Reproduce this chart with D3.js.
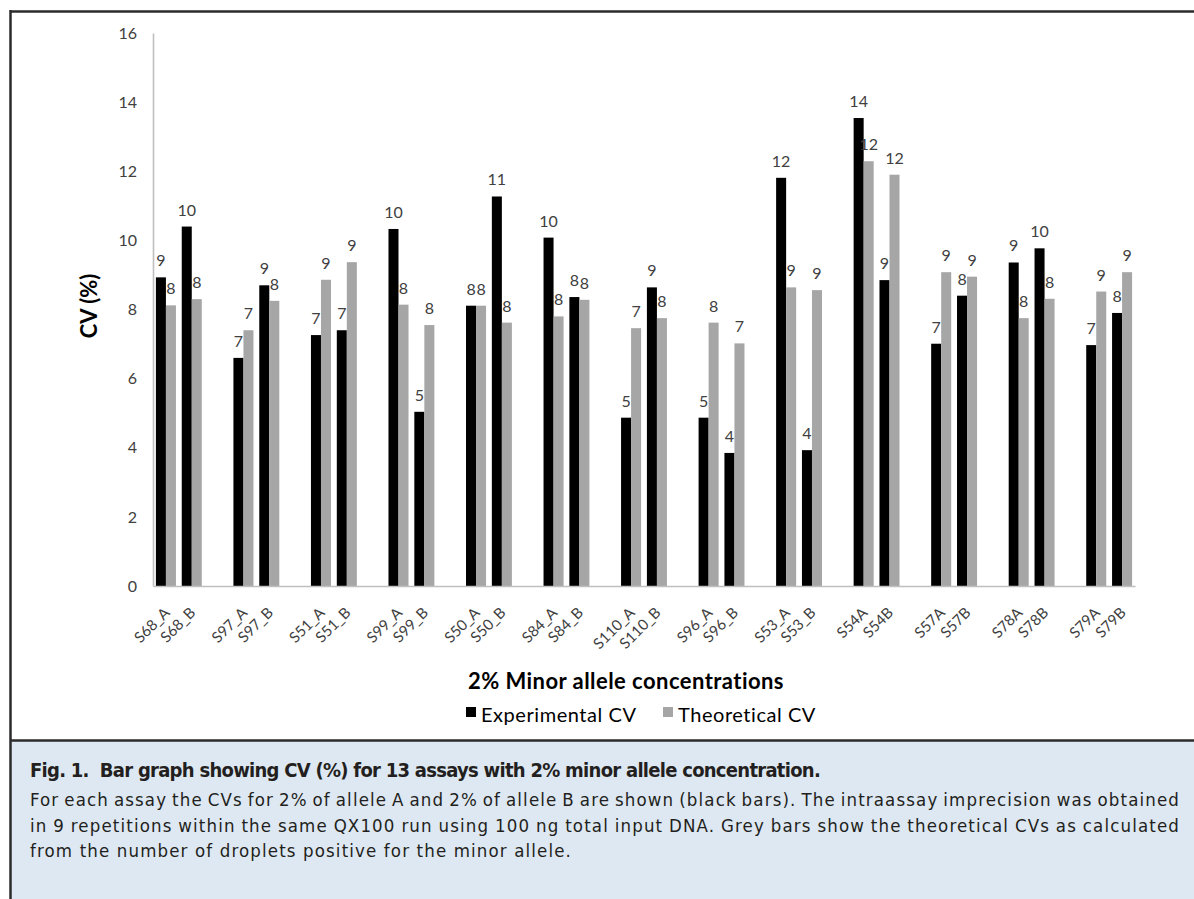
<!DOCTYPE html>
<html lang="en">
<head>
<meta charset="UTF-8">
<title>CV (%) for 13 assays with 2% minor allele concentration</title>
<script src="https://d3js.org/d3.v7.min.js"></script>
<style>
  body { margin: 0; background: #fff; }
  svg { display: block; }
  .chart-text { font-family: Lato, "Open Sans", sans-serif; fill: #404040; }
  .caption { font-family: "DejaVu Sans Condensed", "Liberation Sans Narrow", "Roboto", sans-serif; fill: #231f20; }
</style>
</head>
<body>
<div id="chart"></div>
<script>
// assays, in pairs (allele A / allele B)
const assays = ["S68_A", "S68_B", "S97_A", "S97_B", "S51_A", "S51_B", "S99_A", "S99_B",
  "S50_A", "S50_B", "S84_A", "S84_B", "S110_A", "S110_B", "S96_A", "S96_B",
  "S53_A", "S53_B", "S54A", "S54B", "S57A", "S57B", "S78A", "S78B", "S79A", "S79B"];
const experimentalCV = [8.93, 10.40, 6.60, 8.70, 7.26, 7.40, 10.33, 5.04,
  8.11, 11.27, 10.08, 8.36, 4.87, 8.64, 4.87, 3.85,
  11.81, 3.93, 13.54, 8.85, 7.01, 8.40, 9.36, 9.77, 6.97, 7.90];
const theoreticalCV = [8.12, 8.30, 7.40, 8.25, 8.86, 9.37, 8.14, 7.55,
  8.11, 7.62, 7.80, 8.28, 7.46, 7.75, 7.62, 7.02,
  8.64, 8.56, 12.29, 11.90, 9.08, 8.95, 7.75, 8.31, 8.52, 9.08];
const seriesNames = ["Experimental CV", "Theoretical CV"];
const seriesColors = ["#000000", "#a6a6a6"];
const yTicks = [0, 2, 4, 6, 8, 10, 12, 14, 16];

const W = 1194, H = 899;
const svg = d3.select("#chart").append("svg")
  .attr("width", W).attr("height", H);

// category slots: every pair followed by an empty slot (except the last)
const slots = [];
assays.forEach((a, i) => {
  slots.push(a);
  if (i % 2 === 1 && i < assays.length - 1) slots.push("gap" + i);
});

const rows = [];
assays.forEach((a, i) => {
  rows.push({ assay: a, series: seriesNames[0], value: experimentalCV[i] });
  rows.push({ assay: a, series: seriesNames[1], value: theoreticalCV[i] });
});

const x0 = d3.scaleBand().domain(slots).range([153, 1135]).padding(0);
const x1 = d3.scaleBand().domain(seriesNames).range([0, x0.bandwidth()])
  .paddingInner(0).paddingOuter(0.29);
const y = d3.scaleLinear().domain([0, 16]).range([586, 33]);
const color = d3.scaleOrdinal().domain(seriesNames).range(seriesColors);

// y axis
const yAxis = svg.append("g")
  .attr("transform", "translate(153,0)")
  .call(d3.axisLeft(y).tickValues(yTicks).tickSize(0).tickSizeOuter(0).tickPadding(16));
yAxis.select(".domain").attr("stroke", "#bfbfbf").attr("stroke-width", 1.6);
yAxis.selectAll("text").attr("class", "chart-text").style("font-size", "16px").attr("fill", null);

// bars
svg.append("g").selectAll("rect")
  .data(rows)
  .join("rect")
  .attr("x", d => x0(d.assay) + x1(d.series))
  .attr("y", d => y(d.value))
  .attr("width", x1.bandwidth())
  .attr("height", d => y(0) - y(d.value))
  .attr("fill", d => color(d.series));

// value labels
svg.append("g").selectAll("text")
  .data(rows)
  .join("text")
  .attr("class", "chart-text")
  .attr("x", d => x0(d.assay) + x1(d.series) + x1.bandwidth() / 2)
  .attr("y", d => y(d.value) - 11)
  .attr("text-anchor", "middle")
  .style("font-size", "16px")
  .text(d => Math.round(d.value));

// x axis
const xAxis = svg.append("g")
  .attr("transform", `translate(0,${y(0)})`)
  .call(d3.axisBottom(x0).tickSize(0).tickSizeOuter(0)
    .tickFormat(d => d.startsWith("gap") ? "" : d));
xAxis.select(".domain").attr("stroke", "#bfbfbf").attr("stroke-width", 1.6);
xAxis.selectAll("text")
  .attr("class", "chart-text")
  .attr("fill", null)
  .style("font-size", "15px")
  .attr("x", 0).attr("y", 0).attr("dy", "0.35em")
  .attr("text-anchor", "end")
  .attr("transform", "translate(1,24) rotate(-45)");

// axis titles
svg.append("text")
  .attr("class", "chart-text")
  .attr("transform", "translate(97,306) rotate(-90)")
  .attr("text-anchor", "middle")
  .style("font-size", "22px").style("font-weight", "bold").style("fill", "#000")
  .text("CV (%)");

svg.append("text")
  .attr("class", "chart-text")
  .attr("x", 626).attr("y", 689)
  .attr("text-anchor", "middle")
  .style("font-size", "22px").style("font-weight", "bold").style("fill", "#000")
  .attr("letter-spacing", 0.45)
  .text("2% Minor allele concentrations");

// legend
const legendX = [466, 663];
const legend = svg.append("g").selectAll("g")
  .data(seriesNames)
  .join("g")
  .attr("transform", (d, i) => `translate(${legendX[i]},707)`);
legend.append("rect")
  .attr("width", 10).attr("height", 10)
  .attr("fill", d => color(d));
legend.append("text")
  .attr("class", "chart-text")
  .attr("x", 15).attr("y", 14.5)
  .style("font-size", "20px").style("fill", "#000")
  .attr("letter-spacing", 0.55)
  .text(d => d);

// frame + caption panel
svg.append("rect")
  .attr("x", 10).attr("y", 741).attr("width", W - 10).attr("height", H - 741)
  .attr("fill", "#dee8f2");
svg.append("line").attr("x1", 10).attr("x2", W).attr("y1", 11.5).attr("y2", 11.5)
  .attr("stroke", "#2b2b2b").attr("stroke-width", 2.5);
svg.append("line").attr("x1", 10).attr("x2", W).attr("y1", 740.5).attr("y2", 740.5)
  .attr("stroke", "#2b2b2b").attr("stroke-width", 2.5);
svg.append("line").attr("x1", 10.5).attr("x2", 10.5).attr("y1", 10).attr("y2", H)
  .attr("stroke", "#2b2b2b").attr("stroke-width", 2.5);

// caption: condensed face, letter-spaced to the original widths
const capLeft = 30;
function fitSpacing(node, text, target) {
  const natural = node.getComputedTextLength();
  return (target - natural) / text.length;
}

const titleText = "Fig. 1.  Bar graph showing CV (%) for 13 assays with 2% minor allele concentration.";
const captionTitle = svg.append("text")
  .attr("class", "caption")
  .attr("x", capLeft).attr("y", 777)
  .attr("xml:space", "preserve")
  .style("white-space", "pre")
  .style("font-size", "20px").style("font-weight", "bold")
  .text(titleText);
captionTitle.attr("letter-spacing", fitSpacing(captionTitle.node(), titleText, 790));

const captionLines = [
  "For each assay the CVs for 2% of allele A and 2% of allele B are shown (black bars). The intraassay imprecision was obtained",
  "in 9 repetitions within the same QX100 run using 100 ng total input DNA. Grey bars show the theoretical CVs as calculated",
  "from the number of droplets positive for the minor allele."
];
const lineY = [806, 832, 857];
const bodyLines = svg.append("g").selectAll("text")
  .data(captionLines)
  .join("text")
  .attr("class", "caption")
  .attr("x", capLeft)
  .attr("y", (d, i) => lineY[i])
  .style("font-size", "18.5px")
  .text(d => d);

// letter spacing from the last (ragged) line, then justify the full lines
const ls = fitSpacing(bodyLines.nodes()[2], captionLines[2], 542);
bodyLines.attr("letter-spacing", ls);
bodyLines.each(function (d, i) {
  if (i === captionLines.length - 1) return;
  const natural = this.getComputedTextLength();
  const spaces = d.split(" ").length - 1;
  d3.select(this).attr("word-spacing", (1150 - natural) / spaces);
});
</script>
</body>
</html>
